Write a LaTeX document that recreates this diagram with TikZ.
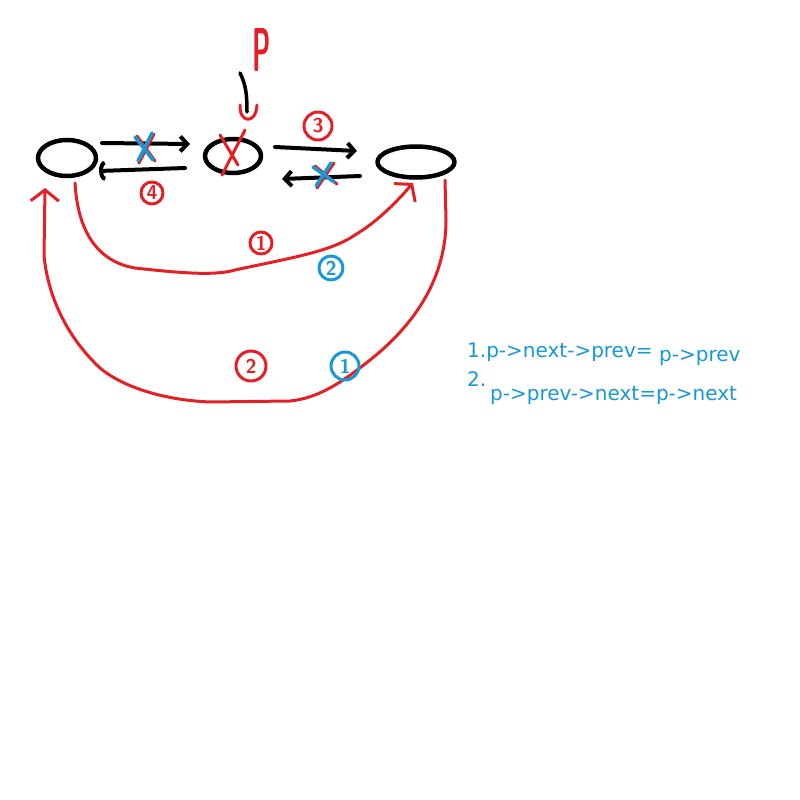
\documentclass[tikz,border=0pt]{standalone}
\usepackage{fontspec}
\newfontfamily\notefont{DejaVu Sans}
\usetikzlibrary{arrows.meta,shapes.geometric}
\definecolor{pen}{RGB}{228,32,38}
\definecolor{note}{RGB}{24,152,212}
\begin{document}
\begin{tikzpicture}[x=1pt,y=-1pt,line cap=round,line join=round,
  blk/.style={draw=black,line width=4pt},
  rd/.style={draw=pen,line width=3pt},
  bl/.style={draw=note,line width=3.5pt},
  ell/.style={draw=black,line width=4.5pt,ellipse,inner sep=0pt},
  barb/.style={-{Straight Barb[length=7pt,width=15pt]}},
  arcbarb/.style={-{Arc Barb[length=6pt,width=20pt]}},
  redhead/.style={-{Straight Barb[length=11pt,width=28pt]}},
  circr/.style={draw=pen,text=pen,circle,line width=3pt,inner sep=0pt,minimum size=22pt,font=\sffamily\bfseries\fontsize{20}{20}\selectfont},
  circb/.style={draw=note,text=note,circle,line width=3pt,inner sep=0pt,minimum size=24pt,font=\sffamily\bfseries\fontsize{20}{20}\selectfont},
  notetext/.style={text=note,inner sep=0pt,anchor=base west,font=\notefont\fontsize{20}{20}\selectfont}
]
\useasboundingbox (0,0) rectangle (800,800);

% list nodes
\node[ell,minimum width=58pt,minimum height=36pt] (L) at (67,158) {};
\node[ell,minimum width=56pt,minimum height=34pt] (M) at (233,156) {};
\node[ell,minimum width=77pt,minimum height=31pt] (R) at (416,162) {};

% pointer p
\node[text=pen,inner sep=0pt,font=\sffamily\bfseries\fontsize{62}{62}\selectfont] (P) at (262,50) {\scalebox{0.42}[1]{P}};

% black links
\coordinate (a1) at (102,143); \coordinate (a2) at (190,144);
\coordinate (b1) at (185,168); \coordinate (b2) at (99,171);
\coordinate (c1) at (275,147); \coordinate (c2) at (357,151);
\coordinate (d1) at (360,176); \coordinate (d2) at (282,179);
\draw[blk,barb] (a1) -- (a2);
\draw[blk,arcbarb] (b1) -- (b2);
\draw[blk,barb] (c1) -- (c2);
\draw[blk,barb] (d1) -- (d2);

% p arrow
\coordinate (p1) at (240,73); \coordinate (p2) at (247,112);
\draw[blk,line width=3.5pt] (p1) .. controls (246,85) and (247,95) .. (p2);
\draw[rd] (240,105) .. controls (239,123) and (256,125) .. (257,105);

% crosses
\draw[rd] (137,136) -- (155,161) (154,134) -- (139,163);
\draw[bl] (135,137) -- (153,160) (152,133) -- (138,161);
\draw[rd] (315,166) -- (337,184) (334,163) -- (317,188);
\draw[bl] (313,167) -- (334,182) (331,163) -- (316,186);
\draw[rd] (220,135) -- (238,165) (245,130) -- (222,175);

% red relinks
\coordinate (e1) at (75,183); \coordinate (e2) at (413,183);
\draw[rd,redhead] (e1) .. controls (78,235) and (100,262) .. (135,268)
  .. controls (180,273) and (215,276) .. (235,270)
  .. controls (290,258) and (330,252) .. (355,235)
  .. controls (380,220) and (400,198) .. (e2);
\coordinate (f1) at (445,180); \coordinate (f2) at (45,188);
\draw[rd,redhead] (f1) -- (446,220)
  .. controls (446,275) and (418,322) .. (370,360)
  .. controls (345,380) and (320,398) .. (290,401) -- (210,402)
  .. controls (160,400) and (120,385) .. (100,368)
  .. controls (70,340) and (48,300) .. (44,255) -- (f2);

% step labels
\node[circr,minimum size=22pt] (n4) at (152,193) {4};
\node[circr,minimum width=28pt] (n3) at (318,126) {3};
\node[circr] (n1) at (261,243) {1};
\node[circb] (m2) at (331,268) {2};
\node[circr,minimum size=30pt] (n2) at (251,366) {2};
\node[circb,minimum size=28pt] (m1) at (345,366) {1};

% notes
\node[notetext] (t1) at (467,357) {1.p->next->prev=};
\node[notetext] (t1b) at (659,361) {p->prev};
\node[notetext] (t2) at (467,386) {2.};
\node[notetext] (t2b) at (490,400) {p->prev->next=p->next};
\end{tikzpicture}
\end{document}
